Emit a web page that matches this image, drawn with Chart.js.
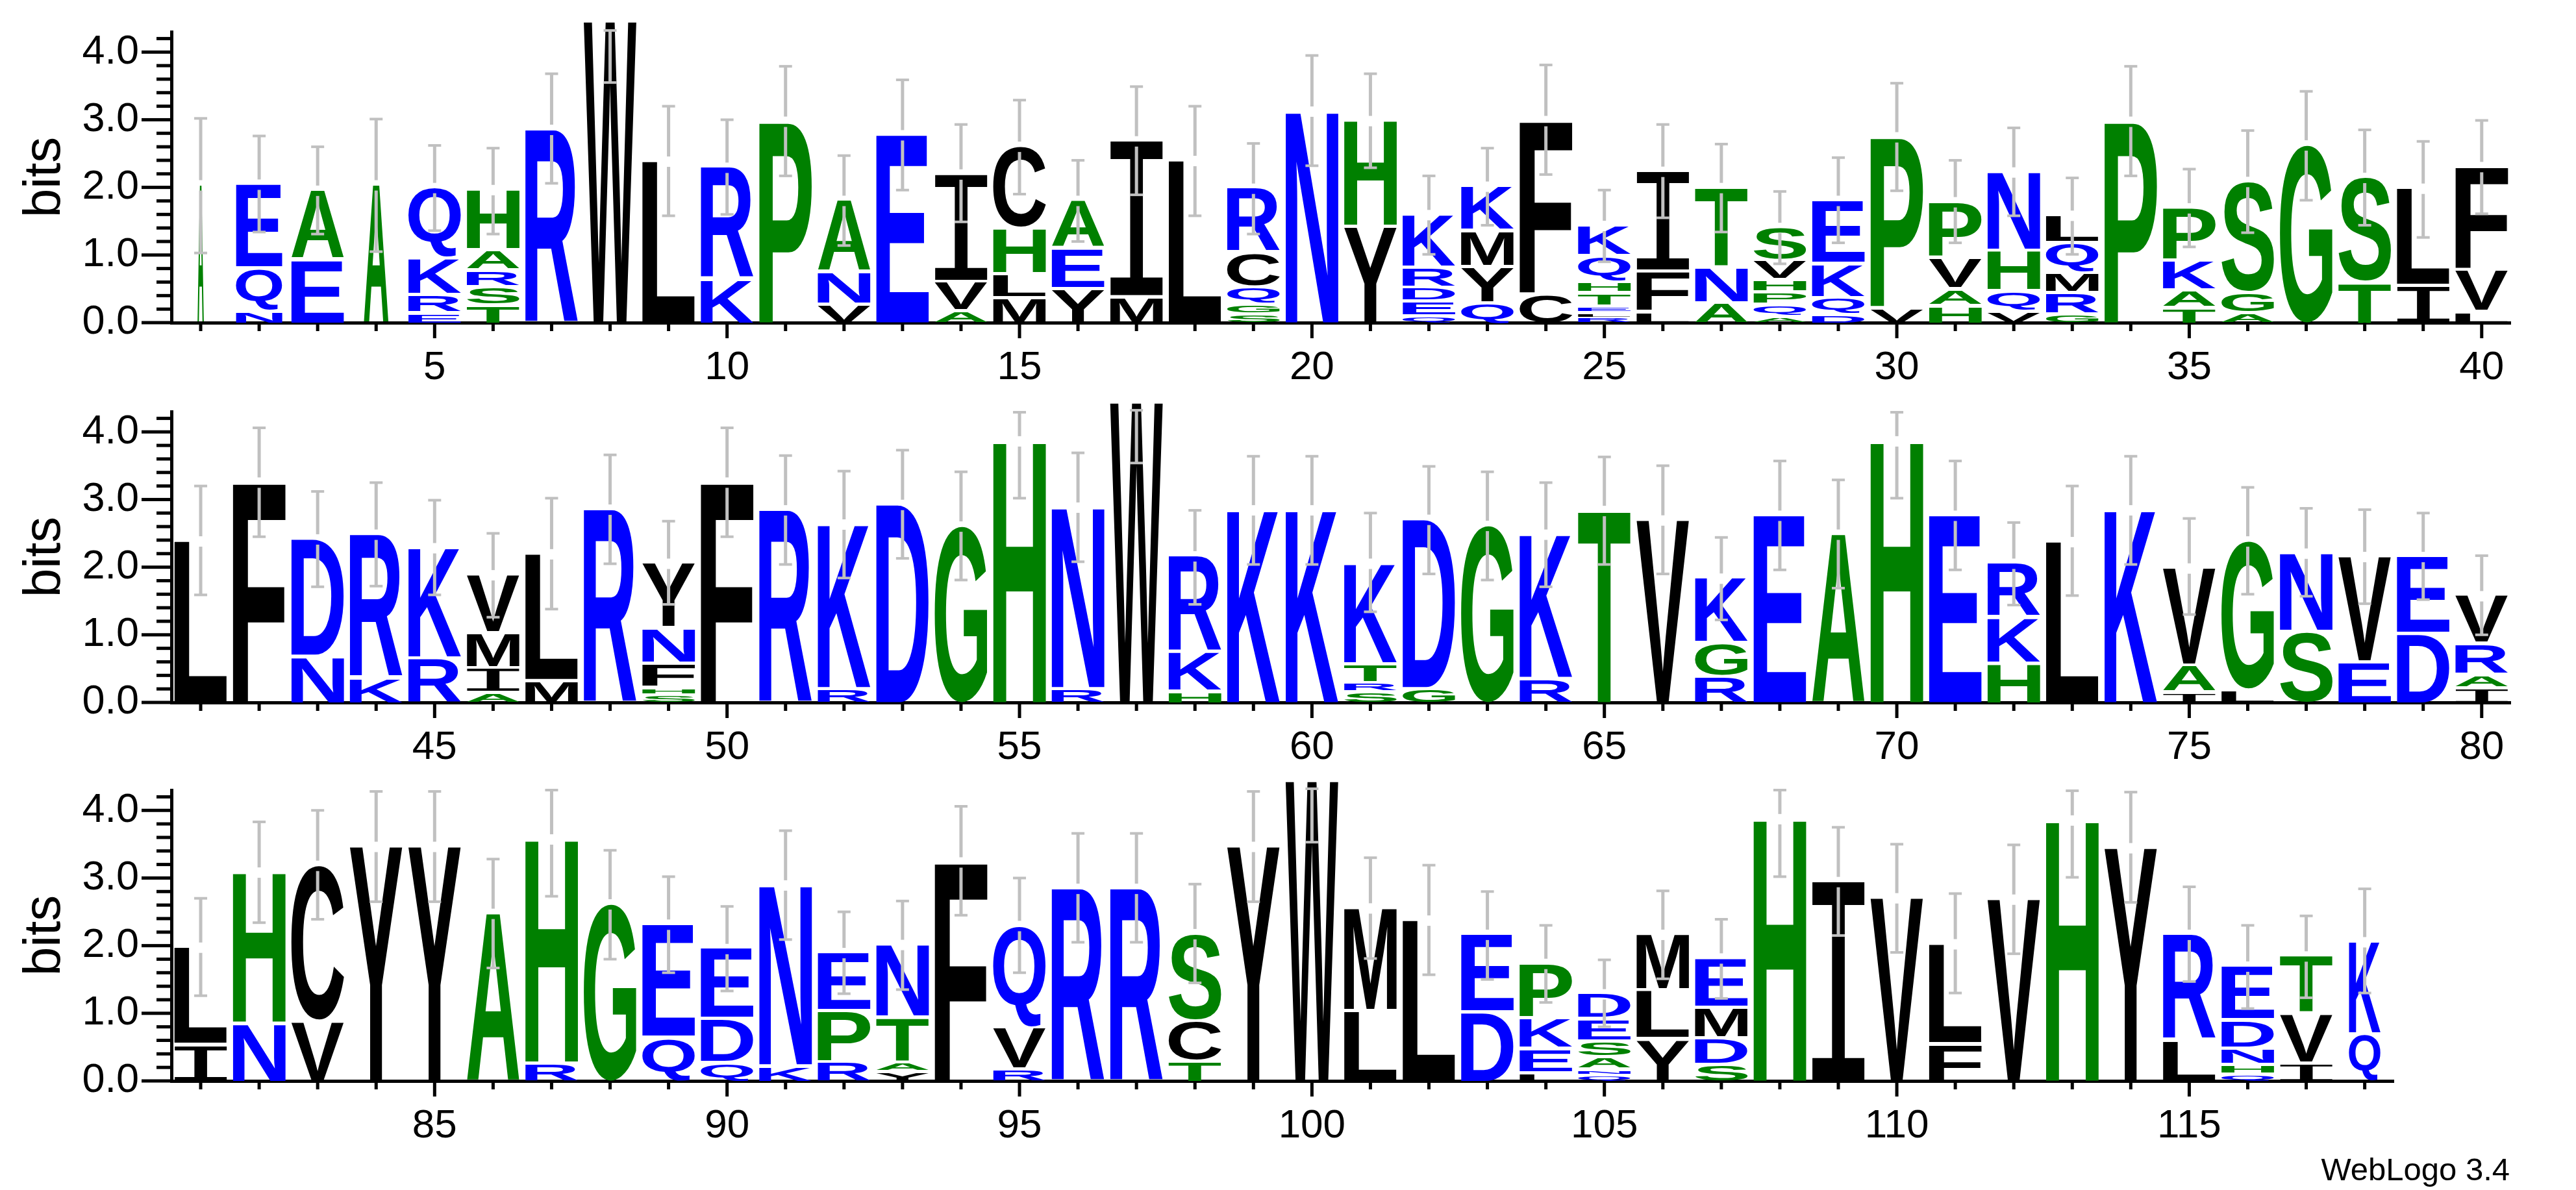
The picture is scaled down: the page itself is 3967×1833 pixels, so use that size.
<!DOCTYPE html>
<html>
<head>
<meta charset="utf-8">
<script src="https://cdn.jsdelivr.net/npm/chart.js@4.4.1/dist/chart.umd.min.js"></script>
<style>
html,body{margin:0;padding:0;background:#fff;}
#wrap{position:relative;width:3967px;height:1833px;overflow:hidden;background:#fff;}
canvas{position:absolute;left:0;}
#credit{position:absolute;right:102px;top:1773px;font:49px "Liberation Sans",Arial,sans-serif;color:#000;}
</style>
</head>
<body>
<div id="wrap">
  <canvas id="row1" width="3967" height="600" style="top:0px"></canvas>
  <canvas id="row2" width="3967" height="600" style="top:585px"></canvas>
  <canvas id="row3" width="3967" height="600" style="top:1168px"></canvas>
  <div id="credit">WebLogo 3.4</div>
</div>
<script>
// letters of each stack, bottom to top (position 1..118)
const stackLetters = [
  "A","NQE","EA","A","ERKQ","TSRAH","R","W","L","KR",
  "P","VNA","E","AVI","MLHC","YEA","MI","L","SGQCR","N",
  "YH","QEDRK","QYMK","CF","RLETHQK","LFI","ANT","AQPHVS","DQKE","VP",
  "HAVP","VQHN","GRMQL","P","TAKP","AGS","G","TS","IL","LVF",
  "L","F","ND","KR","RK","AIMV","ML","R","SHFNY","F",
  "R","RK","D","G","H","RN","W","HKR","K","K",
  "SRTK","GD","G","RK","T","V","RGK","E","A","H",
  "E","HKR","L","K","IAV","LG","SN","EV","DE","IARV",
  "IL","NH","VC","Y","Y","A","RH","G","QE","QDE",
  "KN","RPE","YATN","F","RVQ","R","R","TCS","Y","W",
  "LM","L","DE","LEKP","QNASED","YLM","SDME","H","I","V",
  "FL","V","H","Y","LR","QHNDE","IVT","QK"
];
// bits of each letter, same order
const stackBits = [
  [2.03],[0.15,0.64,1.25],[0.91,1.04],[2.03],[0.12,0.27,0.54,1.06],[0.24,0.27,0.25,0.3,0.9],[2.85],[4.45],[2.38],[0.62,1.67],
  [2.97],[0.25,0.48,1.07],[2.77],[0.15,0.44,1.6],[0.35,0.35,0.68,1.22],[0.48,0.6,0.72],[0.36,2.32],[2.39],[0.1,0.15,0.25,0.52,0.96],[3.12],
  [1.4,1.58],[0.08,0.22,0.2,0.3,0.79],[0.27,0.54,0.53,0.67],[0.4,2.58],[0.06,0.06,0.1,0.2,0.16,0.39,0.46],[0.14,0.6,1.49],[0.27,0.53,1.19],[0.07,0.18,0.18,0.18,0.29,0.5],[0.1,0.25,0.5,0.95],[0.2,2.54],
  [0.23,0.25,0.47,0.83],[0.15,0.3,0.6,1.17],[0.1,0.32,0.3,0.44,0.42],[2.97],[0.2,0.26,0.44,0.79],[0.12,0.3,1.66],[2.62],[0.57,1.57],[0.53,1.45],[0.14,0.63,1.53],
  [2.38],[3.25],[0.66,1.75],[0.34,2.14],[0.63,1.65],[0.12,0.37,0.52,0.87],[0.3,1.89],[2.85],[0.09,0.11,0.36,0.52,0.97],[3.25],
  [2.84],[0.18,2.45],[2.92],[2.6],[3.86],[0.18,2.7],[4.43],[0.14,0.59,1.43],[2.84],[2.84],
  [0.13,0.14,0.28,1.5],[0.18,2.52],[2.61],[0.33,2.15],[2.83],[2.69],[0.36,0.5,0.97],[2.76],[2.48],[3.86],
  [2.76],[0.56,0.68,0.81],[2.37],[2.84],[0.13,0.4,1.45],[0.16,2.22],[1.03,1.17],[0.58,1.57],[1.0,1.15],[0.19,0.2,0.46,0.72],
  [0.52,1.45],[0.83,2.25],[0.86,2.32],[3.46],[3.46],[2.47],[0.24,3.33],[2.61],[0.62,1.69],[0.25,0.65,1.05],
  [0.2,2.69],[0.26,0.76,0.87],[0.11,0.14,0.67,1.09],[3.23],[0.15,0.62,1.52],[2.84],[2.84],[0.27,0.6,1.3],[3.46],[4.43],
  [1.02,1.53],[2.37],[1.0,1.16],[0.1,0.36,0.45,0.82],[0.07,0.08,0.18,0.24,0.33,0.38],[0.6,0.72,0.84],[0.22,0.39,0.46,0.74],[3.87],[2.94],[2.7],
  [0.53,1.49],[2.68],[3.85],[3.44],[0.58,1.58],[0.08,0.14,0.24,0.42,0.81],[0.24,0.74,0.86],[0.67,1.38]
];
const errLow = [
  1.03,1.34,1.31,1.05,1.36,1.31,2.06,3.55,1.58,1.60,
  2.17,1.14,1.96,1.49,1.90,1.20,1.89,1.58,1.31,2.32,
  2.29,1.01,1.44,2.19,0.90,1.55,1.34,0.87,1.18,1.95,
  1.18,1.58,1.01,2.17,1.12,1.33,1.81,1.44,1.26,1.61,
  1.59,2.45,1.71,1.72,1.59,1.26,1.38,2.05,1.45,2.45,
  2.04,1.84,2.13,1.81,3.02,2.08,3.54,1.45,2.04,2.04,
  1.34,1.90,1.81,1.71,2.04,1.90,1.22,1.96,1.69,3.02,
  1.96,1.44,1.58,2.04,1.30,1.60,1.57,1.46,1.52,1.00,
  1.26,2.34,2.39,2.65,2.65,1.67,2.73,1.80,1.60,1.33,
  2.09,1.29,1.35,2.45,1.60,2.05,2.05,1.45,2.65,3.53,
  1.81,1.57,1.50,1.16,0.80,1.51,1.22,3.02,2.15,1.90,
  1.30,1.88,3.01,2.64,1.47,1.07,1.23,1.30
];
const errHigh = [
  3.02,2.76,2.60,3.01,2.62,2.58,3.68,4.32,3.20,3.00,
  3.79,2.47,3.59,2.93,3.29,2.40,3.49,3.20,2.65,3.95,
  3.68,2.17,2.58,3.81,1.96,2.93,2.64,1.94,2.44,3.54,
  2.40,2.88,2.14,3.79,2.27,2.84,3.42,2.85,2.68,2.99,
  3.20,4.06,3.12,3.25,2.99,2.50,3.02,3.66,2.68,4.06,
  3.65,3.42,3.73,3.41,4.29,3.69,4.32,2.84,3.64,3.64,
  2.80,3.49,3.41,3.25,3.63,3.50,2.44,3.57,3.29,4.29,
  3.57,2.66,3.20,3.64,2.72,3.18,2.87,2.85,2.80,2.17,
  2.70,3.83,4.00,4.28,4.28,3.28,4.30,3.41,3.02,2.58,
  3.70,2.50,2.66,4.06,3.00,3.66,3.66,2.91,4.28,4.32,
  3.30,3.19,2.80,2.30,1.79,2.81,2.39,4.30,3.75,3.50,
  2.77,3.49,4.29,4.27,2.87,2.30,2.44,2.84
];
// stacks with many gaps are drawn narrower (fraction of sequences present)
const narrowStacks = {1:0.12, 2:0.88, 4:0.47, 118:0.6};
const rowRanges = [[1,40],[41,80],[81,118]];
const xTickLabels = [
  [5,10,15,20,25,30,35,40],
  [45,50,55,60,65,70,75,80],
  [85,90,95,100,105,110,115]
];
const yTickValues = [0,1,2,3,4];
const yTickLabels = ["0.0","1.0","2.0","3.0","4.0"];

const GREEN = "#008000", BLUE = "#0000ff", BLACK = "#000000";
function colorOf(ch){
  if("AGHPST".includes(ch)) return GREEN;
  if("DEKNQR".includes(ch)) return BLUE;
  return BLACK;
}
function fontFor(ch){
  return ch==="I" ? '200px "DejaVu Sans Mono"' : 'bold 200px "Liberation Sans"';
}
const glyphCache = {};
function glyphBox(ctx, ch){
  if(glyphCache[ch]) return glyphCache[ch];
  ctx.save();
  ctx.font = fontFor(ch);
  ctx.textAlign = "left";
  ctx.textBaseline = "alphabetic";
  const m = ctx.measureText(ch);
  ctx.restore();
  glyphCache[ch] = {l:m.actualBoundingBoxLeft, r:m.actualBoundingBoxRight, a:m.actualBoundingBoxAscent, d:m.actualBoundingBoxDescent};
  return glyphCache[ch];
}
function drawGlyph(ctx, ch, x0, y0, w, h){
  if(w<=0 || h<=0.5) return;
  const g = glyphBox(ctx, ch);
  ctx.save();
  ctx.translate(x0, y0);
  ctx.scale(w/(g.l+g.r), h/(g.a+g.d));
  ctx.font = fontFor(ch);
  ctx.textAlign = "left";
  ctx.textBaseline = "alphabetic";
  ctx.fillStyle = colorOf(ch);
  ctx.fillText(ch, g.l, g.a);
  ctx.restore();
}

const logoPlugin = {
  id: "logo",
  afterDatasetsDraw(chart){
    const {ctx, scales:{x, y}} = chart;
    chart.data.datasets.forEach((ds, k)=>{
      const meta = chart.getDatasetMeta(k);
      meta.data.forEach((bar, i)=>{
        const pos = ds.data[i].x;
        const frac = 0.9*(narrowStacks[pos]||1);
        const left = x.getPixelForValue(pos - frac/2);
        const right = x.getPixelForValue(pos + frac/2);
        const p = bar.getProps(["y","base"], true);
        const full = p.base - p.y;
        const gap = k>0 ? 5 : 0;
        const h = Math.max(full - gap, full*0.5);
        drawGlyph(ctx, ds.letters[i], left, p.y, right-left, h);
      });
    });
    // error bars
    const [a, b] = chart.options.rowRange;
    ctx.save();
    ctx.fillStyle = "#c0c0c0";
    for(let pos=a; pos<=b; pos++){
      const idx = pos-1;
      const total = stackBits[idx].reduce((s,v)=>s+v,0);
      const cx = x.getPixelForValue(pos);
      const yT = y.getPixelForValue(total);
      const yHi = y.getPixelForValue(errHigh[idx]);
      const yLo = y.getPixelForValue(errLow[idx]);
      const segs = [[yHi, yT-8],[Math.max(yT+8, yHi), yLo]];
      segs.forEach(([s,e])=>{ if(e>s) ctx.fillRect(cx-2.5, s, 5, e-s); });
      ctx.fillRect(cx-10, yHi-2, 20, 4);
      ctx.fillRect(cx-10, yLo-2, 20, 4);
    }
    ctx.restore();
  },
  afterDraw(chart){
    const {ctx, chartArea, scales:{x, y}} = chart;
    ctx.save();
    ctx.fillStyle = "#000";
    for(let p=Math.ceil(x.min); p<=x.max; p++){
      const px = x.getPixelForValue(p);
      const len = p%5===0 ? 24 : 13;
      ctx.fillRect(px-2.5, chartArea.bottom, 5, len);
    }
    for(let i=0;i<=21;i++){
      const py = y.getPixelForValue(i*0.2);
      const len = i%5===0 ? 46 : 23;
      ctx.fillRect(chartArea.left-len, py-2.5, len, 5);
    }
    ctx.restore();
  }
};

function buildRow(canvasId, r){
  const [a, b] = rowRanges[r];
  const datasets = [];
  for(let pos=a; pos<=b; pos++){
    const letters = stackLetters[pos-1];
    const bits = stackBits[pos-1];
    for(let k=0;k<letters.length;k++){
      if(!datasets[k]) datasets[k] = {data:[], letters:[], backgroundColor:"rgba(0,0,0,0)", borderWidth:0};
      datasets[k].data.push({x:pos, y:bits[k]});
      datasets[k].letters.push(letters[k]);
    }
  }
  const xMin = a-0.5, xMax = b+0.5;
  const chartRight = 264 + (xMax-xMin)*90.07;
  return new Chart(document.getElementById(canvasId), {
    type: "bar",
    data: { datasets },
    options: {
      rowRange: [a, b],
      responsive: false,
      animation: false,
      devicePixelRatio: 1,
      events: [],
      layout: { padding: { top: 49, right: 3967-chartRight, bottom: 0, left: 0 } },
      plugins: { legend: {display:false}, tooltip: {enabled:false} },
      scales: {
        x: {
          type: "linear", min: xMin, max: xMax, offset: false, stacked: true,
          grid: { display: true, drawOnChartArea: false, drawTicks: false },
          border: { display: true, color: "#000", width: 5 },
          afterBuildTicks: s => { s.ticks = xTickLabels[r].map(v => ({value: v})); },
          afterFit: s => { s.height = 103; },
          ticks: {
            autoSkip: false, maxRotation: 0, minRotation: 0, padding: 33,
            color: "#000", font: { family: "Liberation Sans", size: 62 },
            callback: (v, i) => String(xTickLabels[r][i])
          }
        },
        y: {
          min: 0, max: 4.3, stacked: true,
          grid: { display: true, drawOnChartArea: false, drawTicks: true, tickLength: 50, tickColor: "rgba(0,0,0,0)" },
          border: { display: true, color: "#000", width: 5 },
          afterBuildTicks: s => { s.ticks = yTickValues.map(v => ({value: v})); },
          afterFit: s => { s.width = 264; },
          ticks: {
            padding: 0, color: "#000", font: { family: "Liberation Sans", size: 63 },
            callback: (v, i) => yTickLabels[i]
          },
          title: {
            display: true, text: "bits", color: "#000",
            font: { family: "Liberation Sans", size: 80, lineHeight: 1.2 },
            padding: { top: 22, bottom: 0 }
          }
        }
      }
    },
    plugins: [logoPlugin]
  });
}

buildRow("row1", 0);
buildRow("row2", 1);
buildRow("row3", 2);
</script>
</body>
</html>
